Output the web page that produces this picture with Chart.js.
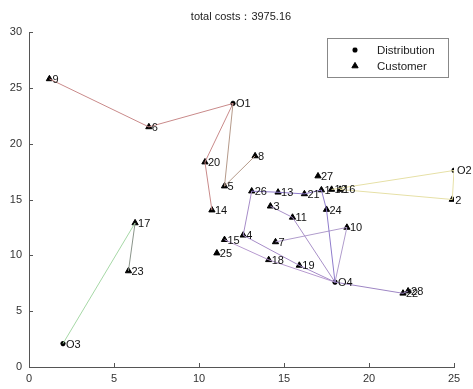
<!DOCTYPE html>
<html>
<head>
<meta charset="utf-8">
<script src="https://cdn.jsdelivr.net/npm/chart.js@4.4.1/dist/chart.umd.min.js"></script>
<style>
  html, body { margin: 0; padding: 0; background: #fff; }
  #wrap { width: 473px; height: 389px; position: relative; }
</style>
</head>
<body>
<div id="wrap"><canvas id="c" width="473" height="389"></canvas></div>
<script>
// Distribution centres
const depotNames = ['O1', 'O2', 'O3', 'O4'];
const depotX = [12.0, 25.0, 2.0, 18.0];
const depotY = [23.6, 17.6, 2.1, 7.6];

// Customers
const customerIds = ['1','2','3','4','5','6','7','8','9','10','11','12','13','14',
  '15','16','17','18','19','20','21','22','23','24','25','26','27','28'];
const customerX = [17.2, 24.9, 14.2, 12.6, 11.5, 7.05, 14.5, 13.3, 1.2, 18.7, 15.5, 17.8, 14.65, 10.76,
  11.5, 18.3, 6.24, 14.1, 15.9, 10.35, 16.2, 22.0, 5.85, 17.5, 11.05, 13.1, 17.0, 22.3];
const customerY = [15.85, 15.0, 14.4, 11.8, 16.2, 21.5, 11.2, 18.9, 25.8, 12.5, 13.4, 15.9, 15.65, 14.05,
  11.4, 15.9, 12.9, 9.6, 9.1, 18.35, 15.5, 6.6, 8.6, 14.1, 10.2, 15.75, 17.1, 6.8];

// Tick values
const xTicks = [0, 5, 10, 15, 20, 25];
const yTicks = [0, 5, 10, 15, 20, 25, 30];

const titleText = 'total costs：3975.16';

// Vehicle paths, one colour per distribution centre
const routesO1 = [['9', '6', 'O1', '20', '14'], ['O1', '5', '8']];
const routesO2 = [['12', 'O2', '2', '16']];
const routesO3 = [['O3', '17'], ['17', '23']];
const routesO4 = [['26', '13', '21', '1', '24', 'O4'], ['26', '4', '19', 'O4'],
  ['3', '11', 'O4'], ['7', '10', 'O4'], ['15', '18', 'O4'], ['O4', '22', '28']];

const routeColors = {
  O1: ['#c98a8a', '#b59a8a'],
  O2: ['#e6e0a6'],
  O3: ['#a6d8a6', '#8a948a'],
  O4: ['#8f7ccc', '#a68cc8', '#a890c8', '#b09ccc', '#b79ad0', '#9e86c4']
};

const nodes = {};
depotNames.forEach((n, i) => { nodes[n] = { x: depotX[i], y: depotY[i] }; });
customerIds.forEach((n, i) => { nodes[n] = { x: customerX[i], y: customerY[i] }; });

const datasets = [];
function addRoutes(key, list) {
  list.forEach((path, i) => {
    datasets.push({
      type: 'scatter',
      data: path.map(n => ({ x: nodes[n].x, y: nodes[n].y })),
      showLine: true,
      borderColor: routeColors[key][i % routeColors[key].length],
      borderWidth: 1,
      pointRadius: 0,
      fill: false
    });
  });
}
addRoutes('O1', routesO1);
addRoutes('O2', routesO2);
addRoutes('O3', routesO3);
addRoutes('O4', routesO4);

datasets.push({
  type: 'scatter',
  label: 'Customer',
  data: customerIds.map((n, i) => ({ x: customerX[i], y: customerY[i], name: n })),
  pointStyle: 'triangle',
  pointRadius: 3.6,
  backgroundColor: '#000',
  borderColor: '#000',
  borderWidth: 1
});
datasets.push({
  type: 'scatter',
  label: 'Distribution',
  data: depotNames.map((n, i) => ({ x: depotX[i], y: depotY[i], name: n })),
  pointStyle: 'star',
  pointRadius: 2.6,
  backgroundColor: '#000',
  borderColor: '#000',
  borderWidth: 1.6
});

const FONT = '"Liberation Sans", Arial, sans-serif';

const decorations = {
  id: 'decorations',
  afterDatasetsDraw(chart) {
    const ctx = chart.ctx;
    const xs = chart.scales.x, ys = chart.scales.y;
    const area = chart.chartArea;
    ctx.save();

    // inward tick marks
    ctx.strokeStyle = '#555';
    ctx.lineWidth = 1;
    xTicks.forEach(v => {
      const px = Math.round(xs.getPixelForValue(v)) + 0.5;
      ctx.beginPath(); ctx.moveTo(px, area.bottom); ctx.lineTo(px, area.bottom - 4); ctx.stroke();
    });
    yTicks.forEach(v => {
      const py = Math.round(ys.getPixelForValue(v)) + 0.5;
      ctx.beginPath(); ctx.moveTo(area.left, py); ctx.lineTo(area.left + 4, py); ctx.stroke();
    });

    // point labels
    ctx.fillStyle = '#111';
    ctx.font = '11px ' + FONT;
    ctx.textAlign = 'left';
    ctx.textBaseline = 'middle';
    Object.keys(nodes).forEach(n => {
      const px = xs.getPixelForValue(nodes[n].x);
      const py = ys.getPixelForValue(nodes[n].y);
      ctx.fillText(n, px + 3, py + 1);
    });

    // title
    ctx.fillStyle = '#222';
    ctx.font = '11px ' + FONT;
    ctx.textAlign = 'center';
    ctx.fillText(titleText, 241, 17);

    // legend
    const lx = 327, ly = 38, lw = 121, lh = 39;
    ctx.fillStyle = '#fff';
    ctx.fillRect(lx, ly, lw, lh);
    ctx.strokeStyle = '#888';
    ctx.strokeRect(lx + 0.5, ly + 0.5, lw, lh);
    const items = [['Distribution', 'star', 2.6, 1.6], ['Customer', 'triangle', 3.6, 1]];
    items.forEach((it, i) => {
      const cy = ly + 12 + i * 16;
      ctx.fillStyle = '#000'; ctx.strokeStyle = '#000'; ctx.lineWidth = it[3];
      Chart.helpers.drawPoint(ctx, { pointStyle: it[1], radius: it[2], borderWidth: it[3] }, 355, cy);
      ctx.fillStyle = '#222';
      ctx.font = '11.5px ' + FONT;
      ctx.textAlign = 'left';
      ctx.fillText(it[0], 377, cy + 1);
    });
    ctx.restore();
  }
};

new Chart(document.getElementById('c'), {
  type: 'scatter',
  data: { datasets },
  options: {
    responsive: false,
    animation: false,
    layout: { padding: { left: 0, top: 32, right: 19, bottom: 0 } },
    plugins: { legend: { display: false }, title: { display: false }, tooltip: { enabled: false } },
    scales: {
      x: {
        type: 'linear', min: 0, max: 25,
        afterFit(s) { s.height = 22; },
        afterBuildTicks(s) { s.ticks = xTicks.map(v => ({ value: v })); },
        grid: { display: false, drawTicks: false },
        border: { display: true, color: '#555', width: 1 },
        ticks: { color: '#333', font: { family: FONT, size: 11 }, padding: 5, maxRotation: 0 }
      },
      y: {
        type: 'linear', min: 0, max: 30,
        afterFit(s) { s.width = 29; },
        afterBuildTicks(s) { s.ticks = yTicks.map(v => ({ value: v })); },
        grid: { display: false, drawTicks: false },
        border: { display: true, color: '#555', width: 1 },
        ticks: { color: '#333', font: { family: FONT, size: 11 }, padding: 7 }
      }
    }
  },
  plugins: [decorations]
});
</script>
</body>
</html>
